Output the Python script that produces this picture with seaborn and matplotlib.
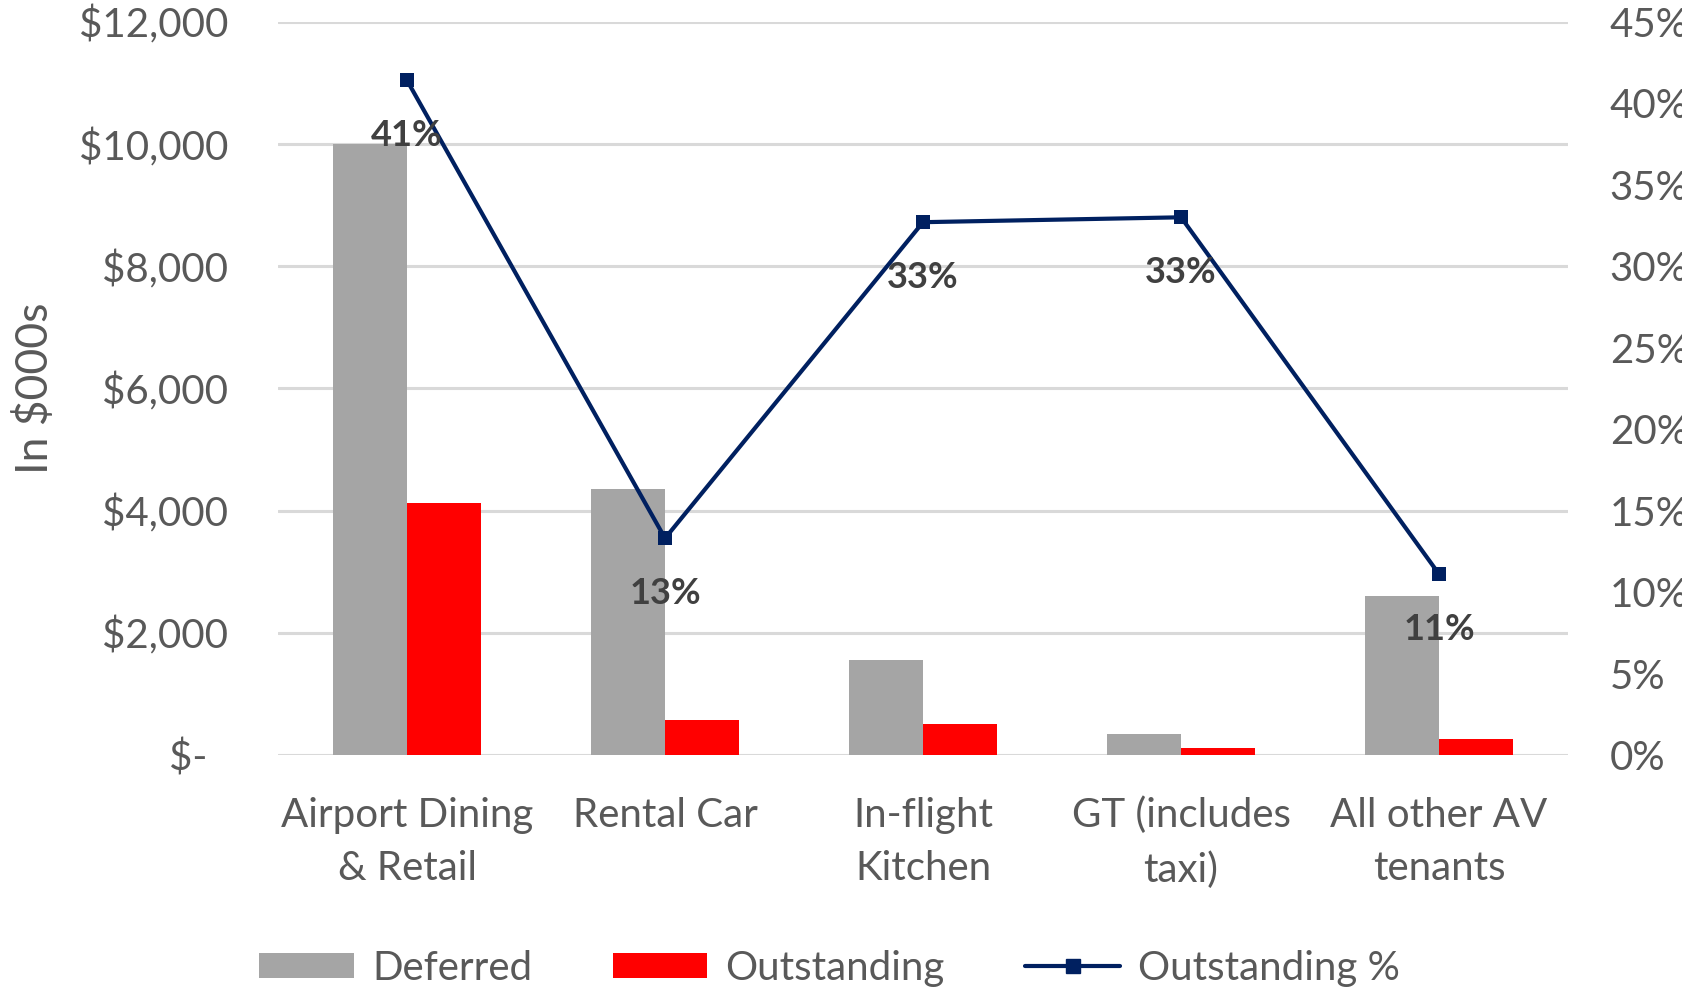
import numpy as np
import pandas as pd
import matplotlib
matplotlib.use("Agg")
import matplotlib.pyplot as plt
import seaborn as sns
from matplotlib.ticker import FuncFormatter, MultipleLocator
from matplotlib.patches import Patch
from matplotlib.lines import Line2D

categories = ["Airport Dining\n& Retail", "Rental Car", "In-flight\nKitchen",
              "GT (includes\ntaxi)", "All other AV\ntenants"]
deferred = [10000, 4350, 1550, 350, 2600]
outstanding = [4120, 580, 500, 120, 260]
outstanding_pct = [0.414, 0.133, 0.327, 0.330, 0.111]
series_names = ["Deferred", "Outstanding"]
line_name = "Outstanding %"

GRAY = "#a5a5a5"
RED = "#ff0000"
NAVY = "#002060"
TXT = "#595959"

sns.set_theme(style="white")
plt.rcParams["font.family"] = ["Lato", "DejaVu Sans"]

df = pd.DataFrame({
    "category": categories * 2,
    "series": [series_names[0]] * len(categories) + [series_names[1]] * len(categories),
    "value": deferred + outstanding,
})

fig = plt.figure(figsize=(16.83, 9.9), dpi=100)
ax = fig.add_axes([0.1652, 0.2374, 0.9317 - 0.1652, 0.978 - 0.2374])

sns.barplot(data=df, x="category", y="value", hue="series", order=categories,
            hue_order=series_names, palette=[GRAY, RED], width=0.574, gap=0,
            ax=ax, legend=False, saturation=1, linewidth=0)

ax.set_ylim(0, 12000)
ax.set_xlim(-0.5, len(categories) - 0.5)
ax.yaxis.set_major_locator(MultipleLocator(2000))
ax.yaxis.set_major_formatter(FuncFormatter(lambda v, p: "$-  " if v == 0 else f"${v:,.0f}"))
ax.grid(axis="y", color="#d9d9d9", linewidth=2.2)
ax.set_axisbelow(True)
for s in ax.spines.values():
    s.set_visible(False)
ax.tick_params(axis="y", length=0, pad=36, labelsize=29, labelcolor=TXT)
ax.tick_params(axis="x", length=0, pad=30, labelsize=29, labelcolor=TXT)
for lbl in ax.get_xticklabels():
    lbl.set_linespacing(1.55)
ax.set_xlabel("")
ax.set_ylabel("In $000s", fontsize=32, color=TXT, labelpad=16)

ax2 = ax.twinx()
xpos = np.arange(len(categories))
sns.lineplot(x=xpos, y=outstanding_pct, ax=ax2, color=NAVY, linewidth=3,
             marker="s", markersize=10, markeredgewidth=0, legend=False)
ax2.set_ylim(0, 0.45)
ax2.yaxis.set_major_locator(MultipleLocator(0.05))
ax2.yaxis.set_major_formatter(FuncFormatter(lambda v, p: f"{v*100:.0f}%"))
ax2.tick_params(axis="y", length=0, pad=30, labelsize=29, labelcolor=TXT)
ax2.set_ylabel("")
ax2.grid(False)
for s in ax2.spines.values():
    s.set_visible(False)
ax2.set_xlim(-0.5, len(categories) - 0.5)

for xv, v in zip(xpos, outstanding_pct):
    ax2.annotate(f"{round(v*100)}%", (xv, v), xytext=(0, -40), textcoords="offset points",
                 ha="center", va="center", fontsize=26, fontweight="bold", color="#404040")

handles = [Patch(facecolor=GRAY, edgecolor="none"),
           Patch(facecolor=RED, edgecolor="none"),
           Line2D([0], [0], color=NAVY, linewidth=3, marker="s", markersize=10)]
fig.legend(handles, series_names + [line_name], loc="center", bbox_to_anchor=(0.493, 0.022),
           ncol=3, frameon=False, fontsize=29, labelcolor=TXT, handlelength=2.35,
           handleheight=0.6, handletextpad=0.45, columnspacing=2.0)

fig.savefig("out.png", dpi=100)
